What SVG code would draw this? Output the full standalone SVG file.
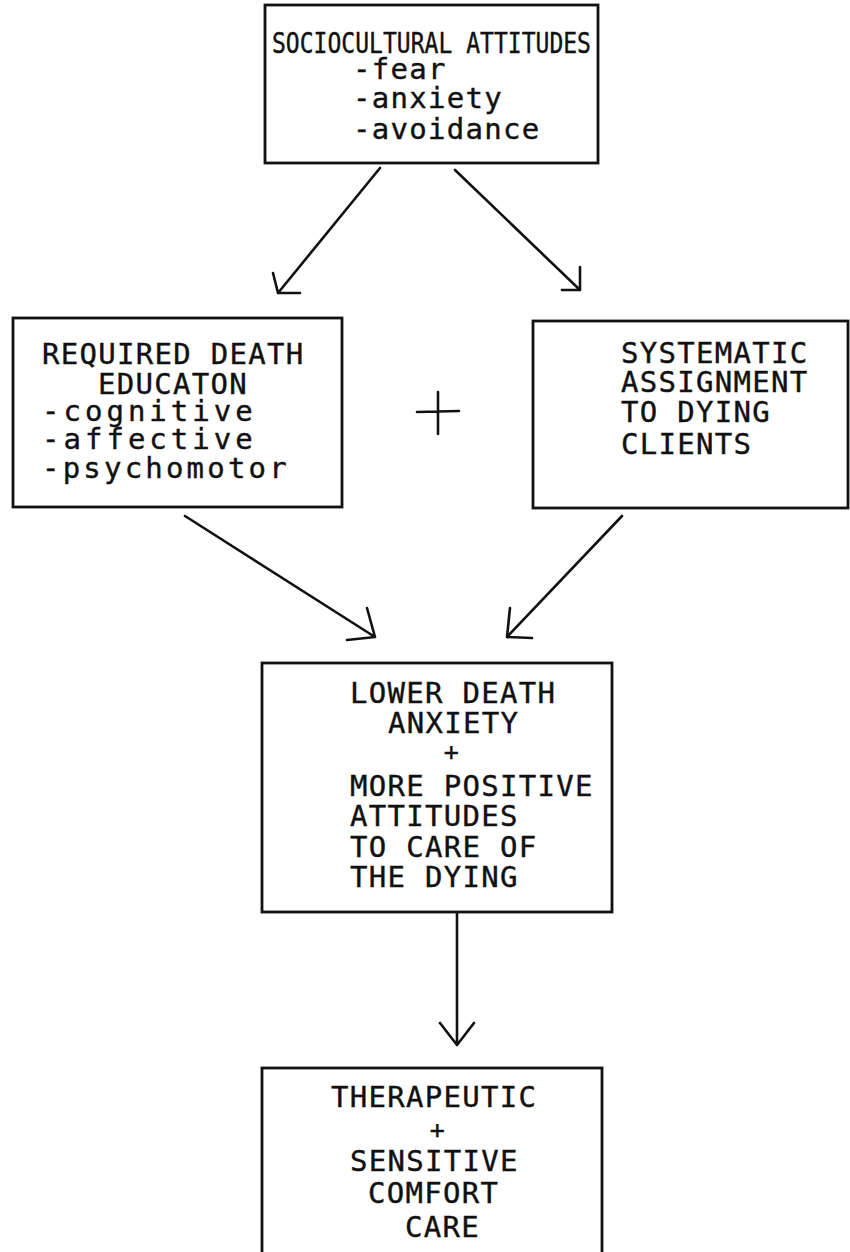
<svg xmlns="http://www.w3.org/2000/svg" width="850" height="1252" viewBox="0 0 850 1252">
<style>
.box{fill:none;stroke:#111;stroke-width:2.8}
.t{font-family:"DejaVu Sans Mono","Liberation Mono",monospace;font-size:29px;letter-spacing:1.3px;fill:#111;stroke:#111;stroke-width:0.4}
.s{font-size:28px;letter-spacing:0}
.p{font-size:25px}
.c{text-anchor:middle}
.ln{fill:none;stroke:#111;stroke-width:2.6;stroke-linecap:round;stroke-linejoin:round}
</style>
<rect width="850" height="1252" fill="#fff"/>
<g id="sociocultural">
<rect class="box" x="265" y="5" width="333" height="158"/>
<text class="t s" x="272" y="53" textLength="319" lengthAdjust="spacingAndGlyphs">SOCIOCULTURAL ATTITUDES</text>
<text class="t" x="353" y="79">-fear</text>
<text class="t" x="353" y="108">-anxiety</text>
<text class="t" x="353" y="139">-avoidance</text>
</g>
<g id="education">
<rect class="box" x="13" y="318" width="329" height="189"/>
<text class="t" x="42" y="364">REQUIRED DEATH</text>
<text class="t" x="98" y="394">EDUCATON</text>
<text class="t" x="42" y="421" textLength="212" lengthAdjust="spacing">-cognitive</text>
<text class="t" x="42" y="449" textLength="212" lengthAdjust="spacing">-affective</text>
<text class="t" x="42" y="478" textLength="246" lengthAdjust="spacing">-psychomotor</text>
</g>
<g id="plus">
<path class="ln" d="M417 412 L459 411 M438 392 L438 434"/>
</g>
<g id="assignment">
<rect class="box" x="533" y="321" width="315" height="187"/>
<text class="t" x="621" y="363">SYSTEMATIC</text>
<text class="t" x="621" y="392">ASSIGNMENT</text>
<text class="t" x="621" y="422">TO DYING</text>
<text class="t" x="621" y="454">CLIENTS</text>
</g>
<g id="outcome">
<rect class="box" x="262" y="663" width="350" height="249"/>
<text class="t" x="350" y="703">LOWER DEATH</text>
<text class="t" x="388" y="733">ANXIETY</text>
<text class="t p c" x="452" y="760">+</text>
<text class="t" x="350" y="796">MORE POSITIVE</text>
<text class="t" x="350" y="826">ATTITUDES</text>
<text class="t" x="350" y="857">TO CARE OF</text>
<text class="t" x="350" y="887">THE DYING</text>
</g>
<g id="care">
<rect class="box" x="262" y="1068" width="340" height="200"/>
<text class="t" x="331" y="1107">THERAPEUTIC</text>
<text class="t p c" x="438" y="1138">+</text>
<text class="t" x="350" y="1171">SENSITIVE</text>
<text class="t" x="368" y="1203">COMFORT</text>
<text class="t" x="405" y="1237">CARE</text>
</g>
<g id="connectors">
<path class="ln" d="M380 168 L278 293 M273 273 L278 293 L300 293"/>
<path class="ln" d="M455 170 L580 290 M580 267 L580 290 L562 290"/>
<path class="ln" d="M185 516 L375 637 M367 608 L375 637 L347 640"/>
<path class="ln" d="M622 516 L507 637 M510 608 L507 637 L532 638"/>
<path class="ln" d="M457 913 L457 1045 M440 1023 L457 1045 L474 1023"/>
</g>
</svg>
